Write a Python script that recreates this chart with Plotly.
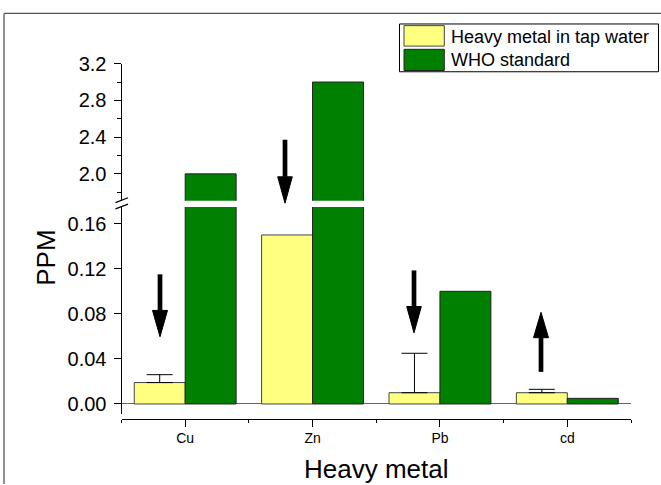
import numpy as np
import plotly.graph_objects as go

# ---- data ----
metals = ["Cu", "Zn", "Pb", "cd"]
tap_water = [0.019, 0.15, 0.01, 0.01]
tap_err = np.array([0.007, np.nan, 0.035, 0.003])   # Zn: no error bar shown
who_std = [2.0, 3.0, 0.1, 0.005]
series_names = ["Heavy metal in tap water", "WHO standard"]
lower_ticks = [0.0, 0.04, 0.08, 0.12, 0.16]
upper_ticks = [2.0, 2.4, 2.8, 3.2]

W, H = 661, 485
YELLOW = "#FFFF80"
GREEN = "#008000"
EDGE = "#222222"
YEDGE = "#444444"
FONT = "Arial, Liberation Sans, sans-serif"


def px(x):
    return x / W


def py(y):
    return 1 - y / H


xpos = list(range(len(metals)))
err_minus = np.where(np.isnan(tap_err), np.nan, 0.0)

fig = go.Figure()
# lower panel
fig.add_trace(go.Bar(x=xpos, y=tap_water, name=series_names[0], xaxis="x", yaxis="y",
                     marker=dict(color=YELLOW, line=dict(color=YEDGE, width=1)),
                     error_y=dict(type="data", array=tap_err, arrayminus=err_minus,
                                  symmetric=False, color="black", thickness=1, width=13),
                     showlegend=False, hoverinfo="skip"))
fig.add_trace(go.Bar(x=xpos, y=who_std, name=series_names[1], xaxis="x", yaxis="y",
                     marker=dict(color=GREEN, line=dict(color=EDGE, width=1)),
                     showlegend=False, hoverinfo="skip"))
# upper panel (same data, broken axis)
fig.add_trace(go.Bar(x=xpos, y=tap_water, name=series_names[0], xaxis="x", yaxis="y2",
                     marker=dict(color=YELLOW, line=dict(color=YEDGE, width=1)),
                     showlegend=False, hoverinfo="skip"))
fig.add_trace(go.Bar(x=xpos, y=who_std, name=series_names[1], xaxis="x", yaxis="y2",
                     marker=dict(color=GREEN, line=dict(color=EDGE, width=1)),
                     showlegend=False, hoverinfo="skip"))

axis_font = dict(family=FONT, size=20, color="black")

fig.update_layout(
    width=W, height=H,
    margin=dict(l=0, r=0, t=0, b=0),
    paper_bgcolor="white", plot_bgcolor="white",
    barmode="group", bargap=0.2, bargroupgap=0,
    showlegend=False,
    font=dict(family=FONT, color="black"),
    xaxis=dict(
        domain=[px(121.5), px(631)], range=[-0.5, len(metals) - 0.5],
        anchor="free", position=py(418),
        tickmode="array", tickvals=xpos, ticktext=metals,
        ticks="outside", ticklen=7, tickcolor="black", tickwidth=1,
        minor=dict(tickmode="array", tickvals=[i - 0.5 for i in range(len(metals) + 1)],
                   ticks="outside", ticklen=3, tickcolor="black", tickwidth=1),
        showline=True, linecolor="black", linewidth=1,
        showgrid=False, zeroline=False,
        tickfont=dict(family=FONT, size=14, color="black"),
    ),
    yaxis=dict(
        domain=[py(413), py(201)], range=[-0.0087, 0.1748], anchor="x",
        tickmode="array", tickvals=lower_ticks, ticktext=[f"{v:.2f}" for v in lower_ticks],
        ticks="outside", ticklen=7, tickcolor="black", tickwidth=1, ticklabelstandoff=3,
        showline=True, linecolor="black", linewidth=1,
        showgrid=False, zeroline=True, zerolinecolor="#666666", zerolinewidth=1,
        tickfont=axis_font,
    ),
    yaxis2=dict(
        domain=[py(194.5), py(54)], range=[1.708, 3.2], anchor="x",
        tickmode="array", tickvals=upper_ticks, ticktext=[f"{v:.1f}" for v in upper_ticks],
        ticks="outside", ticklen=7, tickcolor="black", tickwidth=1, ticklabelstandoff=3,
        minor=dict(tickmode="array", tickvals=[1.8, 2.2, 2.6, 3.0], ticks="outside",
                   ticklen=4, tickcolor="black", tickwidth=1),
        showline=True, linecolor="black", linewidth=1,
        showgrid=False, zeroline=False,
        tickfont=axis_font,
    ),
)

shapes = []
# outer frame (left and top edges visible)
shapes.append(dict(type="line", xref="paper", yref="paper", x0=px(4), x1=px(4), y0=0, y1=py(2.5),
                   line=dict(color="#555555", width=1.3)))
shapes.append(dict(type="line", xref="paper", yref="paper", x0=px(4), x1=1, y0=py(2.5), y1=py(2.5),
                   line=dict(color="#555555", width=1.3)))
# axis break marks
for (xa, ya, xb, yb) in [(115.5, 196.5, 128, 191.5), (115.5, 203, 128, 198)]:
    shapes.append(dict(type="line", xref="paper", yref="paper", x0=px(xa), y0=py(ya), x1=px(xb), y1=py(yb),
                       line=dict(color="black", width=1.3)))

# arrows: (x, tail_y, head_base_y, tip_y, half_width)
arrows = [(160, 270, 307, 334, 7.5), (285, 132, 170, 197, 7.3),
          (414, 266, 303, 330, 7.3), (541, 370, 335, 309, 7.5)]
for (ax, ty, by, tip, hw) in arrows:
    shapes.append(dict(type="line", xref="paper", yref="paper", x0=px(ax), x1=px(ax),
                       y0=py(ty), y1=py(by), line=dict(color="black", width=4.7)))
    path = (f"M{px(ax - hw)},{py(by)} L{px(ax + hw)},{py(by)} L{px(ax)},{py(tip)} Z")
    shapes.append(dict(type="path", xref="paper", yref="paper", path=path,
                       fillcolor="black", line=dict(color="black", width=1)))

# legend box
shapes.append(dict(type="rect", xref="paper", yref="paper", x0=px(399.5), x1=px(658.5),
                   y0=py(62.3), y1=py(13.3), fillcolor="white", line=dict(color="black", width=1)))
shapes.append(dict(type="rect", xref="paper", yref="paper", x0=px(404), x1=px(444.3),
                   y0=py(36), y1=py(15), fillcolor=YELLOW, line=dict(color=YEDGE, width=1)))
shapes.append(dict(type="rect", xref="paper", yref="paper", x0=px(404), x1=px(444.3),
                   y0=py(61), y1=py(39.3), fillcolor=GREEN, line=dict(color=EDGE, width=1)))
fig.update_layout(shapes=shapes)

annotations = [
    dict(text=series_names[0], xref="paper", yref="paper", x=px(449), y=py(26.5),
         xanchor="left", yanchor="middle", showarrow=False,
         font=dict(family=FONT, size=18, color="black")),
    dict(text=series_names[1], xref="paper", yref="paper", x=px(449), y=py(50),
         xanchor="left", yanchor="middle", showarrow=False,
         font=dict(family=FONT, size=18, color="black")),
    dict(text="PPM", xref="paper", yref="paper", x=px(46), y=py(253), textangle=-90,
         xanchor="center", yanchor="middle", showarrow=False,
         font=dict(family=FONT, size=26, color="black")),
    dict(text="Heavy metal", xref="paper", yref="paper", x=px(376), y=py(470),
         xanchor="center", yanchor="middle", showarrow=False,
         font=dict(family=FONT, size=26, color="black")),
]
fig.update_layout(annotations=annotations)

fig.write_html("out.html", config={"displayModeBar": False},
               post_script="document.body.style.margin='0';document.body.style.overflow='hidden';")
